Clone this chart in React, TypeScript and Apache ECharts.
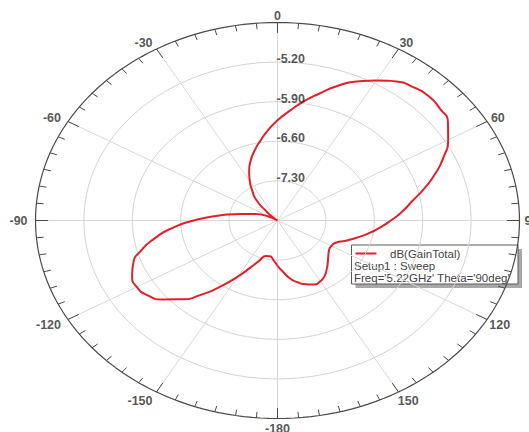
import React, { useEffect, useRef } from "react";
import * as echarts from "echarts";

// Angle (deg, clockwise from top) and gain dB(GainTotal)
const THETA = [
  -180, -175, -170, -165, -160, -155, -150, -145, -140, -135, -130, -125,
  -120, -115, -110, -105, -100, -95, -90, -85, -80, -75, -70, -65,
  -60, -55, -50, -45, -40, -35, -30, -25, -20, -15, -10, -5,
  0, 5, 10, 15, 20, 25, 30, 35, 40, 45, 50, 55,
  60, 65, 70, 75, 80, 85, 90, 95, 100, 105, 110, 115,
  120, 125, 130, 135, 140, 145, 150, 155, 160, 165, 170, 175,
];
const GAIN_DB = [
  -7.2, -7.3, -7.36, -7.35, -7.25, -7.09, -6.86, -6.59, -6.29, -6.03, -5.83, -5.7,
  -5.65, -5.68, -5.78, -5.96, -6.2, -6.47, -6.79, -7.11, -7.36, -7.56, -7.66, -7.77,
  -7.9, -8.1, -7.93, -7.78, -7.52, -7.37, -7.2, -7.03, -6.87, -6.72, -6.57, -6.4,
  -6.23, -6.06, -5.87, -5.68, -5.47, -5.29, -5.14, -5.0, -4.93, -4.9, -4.93, -4.99,
  -5.15, -5.35, -5.57, -5.8, -6.02, -6.19, -6.36, -6.52, -6.67, -6.82, -6.95, -7.07,
  -7.1, -7.09, -7.04, -6.97, -6.89, -6.81, -6.76, -6.75, -6.8, -6.87, -6.96, -7.09,
];
const R_MIN = -8.0;
const R_MAX = -4.5;
const RING_LABELS = ["-7.30", "-6.60", "-5.90", "-5.20"];
const RING_VALUES = [-7.3, -6.6, -5.9, -5.2];
const ANGLE_LABELS = [0, 30, 60, 90, 120, 150, -180, -150, -120, -90, -60, -30];
const SPOKE_ANGLES = [0, 30, 60, 90, 120, 150];
const SERIES_NAME = "dB(GainTotal)";
const LEGEND_LINES = ["Setup1 : Sweep", "Freq='5.22GHz' Theta='90deg'"];

const DEG = Math.PI / 180;
const norm = (v: number) => Math.max(0, (v - R_MIN) / (R_MAX - R_MIN));
const toXY = (thetaDeg: number, rho: number) => [
  rho * Math.sin(thetaDeg * DEG),
  rho * Math.cos(thetaDeg * DEG),
];

function ellipsePoints(rho: number) {
  const pts: number[][] = [];
  for (let a = 0; a <= 360; a += 2) pts.push(toXY(a, rho));
  return pts;
}

export default function App() {
  const ref = useRef<HTMLDivElement>(null);
  useEffect(() => {
    if (!ref.current) return;
    const chart = echarts.init(ref.current, null, { renderer: "svg" });

    const curve = THETA.map((t, i) => toXY(t, norm(GAIN_DB[i])));
    curve.push(curve[0]);

    const ringSeries = RING_VALUES.map((v) => ({
      type: "line",
      data: ellipsePoints(norm(v)),
      showSymbol: false,
      silent: true,
      clip: false,
      lineStyle: { color: "#d4d4d4", width: 1 },
      z: 1,
    }));

    const spokes = SPOKE_ANGLES.map((a) => ({
      coords: [toXY(a + 180, 1), toXY(a, 1)],
    }));
    const ticks: any[] = [];
    for (let a = -180; a < 180; a += 5) {
      const major = a % 30 === 0;
      ticks.push({ coords: [toXY(a, 1), toXY(a, major ? 0.948 : 0.97)] });
    }

    const angleLabelData = ANGLE_LABELS.map((a) => {
      const txt = String(a);
      const s = Math.sin(a * DEG);
      const c = Math.cos(a * DEG);
      const neg = txt.startsWith("-");
      const halfW = ((neg ? 4 : 0) + (neg ? txt.length - 1 : txt.length) * 7) / 2;
      const sgn = Math.abs(s) < 1e-6 ? 0 : Math.sign(s);
      const ox = s * 8 + sgn * halfW * (neg ? 1 : 0.55);
      const oy = c >= 0 ? -c * 7 : -c * 10.5;
      return {
        value: toXY(a, 1),
        label: { formatter: txt, offset: [ox, oy] },
      };
    });

    const ringLabelData = RING_VALUES.map((v, i) => ({
      value: [0, norm(v)],
      label: { formatter: RING_LABELS[i] },
    }));

    const lx = 351.5;
    const ly = 245;
    const lw = 166.5;
    const lh = 39;

    chart.setOption({
      animation: false,
      grid: { left: 35.5, right: 9.5, top: 22.5, bottom: 13.5 },
      xAxis: { type: "value", min: -1, max: 1, show: false },
      yAxis: { type: "value", min: -1, max: 1, show: false },
      series: [
        ...ringSeries,
        {
          type: "lines",
          coordinateSystem: "cartesian2d",
          data: spokes,
          silent: true,
          lineStyle: { color: "#d8d8d8", width: 1, opacity: 1 },
          z: 1,
        },
        {
          type: "line",
          data: ellipsePoints(1),
          showSymbol: false,
          silent: true,
          clip: false,
          lineStyle: { color: "#4a4a4a", width: 1.2 },
          z: 2,
        },
        {
          type: "lines",
          coordinateSystem: "cartesian2d",
          data: ticks,
          silent: true,
          lineStyle: { color: "#4a4a4a", width: 1, opacity: 1 },
          z: 2,
        },
        {
          name: SERIES_NAME,
          type: "line",
          data: curve,
          showSymbol: false,
          smooth: 0.6,
          clip: false,
          lineStyle: { color: "#e0202c", width: 2 },
          z: 5,
        },
        {
          type: "scatter",
          data: angleLabelData,
          symbolSize: 0,
          clip: false,
          silent: true,
          label: {
            show: true,
            position: "inside",
            align: "center",
            verticalAlign: "middle",
            color: "#2a2a2a",
            fontFamily: "Liberation Sans, Arial, sans-serif",
            fontWeight: "bold",
            fontSize: 12.5,
          },
          z: 6,
        },
        {
          type: "scatter",
          data: ringLabelData,
          symbolSize: 0,
          clip: false,
          silent: true,
          label: {
            show: true,
            position: "right",
            distance: 0,
            offset: [-1, -3],
            color: "#2a2a2a",
            fontFamily: "Liberation Sans, Arial, sans-serif",
            fontWeight: "bold",
            fontSize: 12.5,
          },
          z: 6,
        },
      ],
      graphic: [
        {
          type: "group",
          z: 100,
          children: [
            {
              type: "rect",
              shape: { x: lx + 4, y: ly + 4, width: lw, height: lh },
              style: { fill: "#a8a8a8" },
            },
            {
              type: "rect",
              shape: { x: lx, y: ly, width: lw, height: lh },
              style: { fill: "#ffffff", stroke: "#5a5a5a", lineWidth: 1 },
            },
            {
              type: "line",
              shape: { x1: lx + 4, y1: ly + 8.5, x2: lx + 25, y2: ly + 8.5 },
              style: { stroke: "#e0202c", lineWidth: 2 },
            },
            {
              type: "text",
              x: lx + 38.5,
              y: ly + 8.5,
              style: {
                text: SERIES_NAME,
                fill: "#444",
                font: "11.5px 'Liberation Sans', Arial, sans-serif",
                verticalAlign: "middle",
              },
            },
            ...LEGEND_LINES.map((t, i) => ({
              type: "text",
              x: lx + 2.5,
              y: ly + 20.5 + i * 12.5,
              style: {
                text: t,
                fill: "#444",
                font: "11.5px 'Liberation Sans', Arial, sans-serif",
                verticalAlign: "middle",
              },
            })),
          ],
        },
      ],
    });
    return () => chart.dispose();
  }, []);

  return (
    <div
      ref={ref}
      style={{ position: "absolute", left: 0, top: 0, width: 529, height: 432, background: "#fff" }}
    />
  );
}
